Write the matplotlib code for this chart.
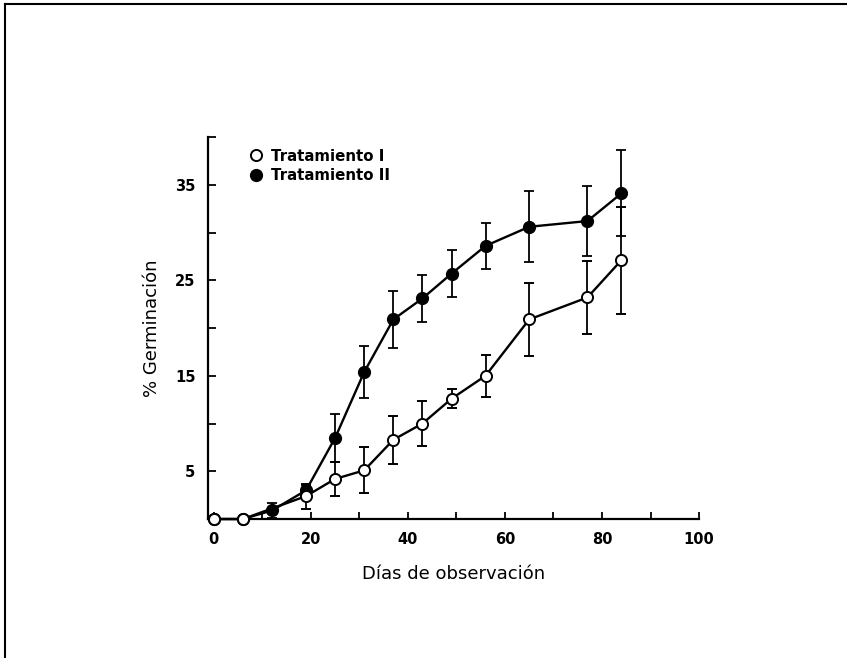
"""
Germinación acumulada (%) frente a días de observación para dos tratamientos,
con barras de error.
"""

import matplotlib
matplotlib.use("Agg")
import matplotlib.pyplot as plt
from matplotlib.lines import Line2D

# ============================== datos ========================================

dias_t1 = [0, 6, 19, 25, 31, 37, 43, 49, 56, 65, 77, 84]
germ_t1 = [0, 0, 2.4, 4.2, 5.1, 8.3, 10.0, 12.6, 15.0, 20.9, 23.2, 27.1]
err_t1 = [0, 0, 1.3, 1.8, 2.4, 2.5, 2.4, 1.0, 2.2, 3.8, 3.8, 5.6]

dias_t2 = [0, 6, 12, 19, 25, 31, 37, 43, 49, 56, 65, 77, 84]
germ_t2 = [0, 0, 0.9, 3.0, 8.5, 15.4, 20.9, 23.1, 25.7, 28.6, 30.6, 31.2, 34.1]
err_t2 = [0, 0, 0.8, 0.6, 2.5, 2.7, 3.0, 2.5, 2.5, 2.4, 3.7, 3.7, 4.5]

xticks_lab = [0, 20, 40, 60, 80, 100]
yticks_lab = [5, 15, 25, 35]

# ============================== main =========================================


def main():
    fig = plt.figure(figsize=(8.47, 6.58), dpi=100)
    ax = fig.add_axes([0.2456, 0.2112, 0.5797, 0.5806])

    # marco de la hoja escaneada
    fig.add_artist(Line2D([0.006, 1.0], [0.9935, 0.9935], color="black", lw=1.5))
    fig.add_artist(Line2D([0.006, 0.006], [0.0, 0.9935], color="black", lw=1.5))

    ax.errorbar(dias_t2, germ_t2, yerr=err_t2, fmt="o-", color="black",
                mfc="black", mec="black", ms=8.5, lw=1.7, elinewidth=1.3,
                capsize=3.8, capthick=1.3, zorder=2, clip_on=False)
    ax.errorbar(dias_t1, germ_t1, yerr=err_t1, fmt="o-", color="black",
                mfc="white", mec="black", mew=1.4, ms=8, lw=1.7,
                elinewidth=1.3, capsize=3.8, capthick=1.3, zorder=3,
                clip_on=False)

    ax.set_xlim(-1.2, 100)
    ax.set_ylim(0, 40)

    ax.spines["top"].set_visible(False)
    ax.spines["right"].set_visible(False)
    for s in ("left", "bottom"):
        ax.spines[s].set_linewidth(1.6)

    ax.set_xticks(range(0, 101, 10))
    ax.set_xticklabels([str(v) if v in xticks_lab else "" for v in range(0, 101, 10)])
    ax.set_yticks(range(5, 41, 5))
    ax.set_yticklabels([str(v) if v in yticks_lab else "" for v in range(5, 41, 5)])
    ax.tick_params(axis="x", direction="in", length=5, width=1.3, pad=9,
                   labelsize=10.5)
    ax.tick_params(axis="y", direction="in", length=6, width=1.3, pad=9,
                   labelsize=10.5)
    for lab in ax.get_xticklabels() + ax.get_yticklabels():
        lab.set_fontweight("bold")

    ax.set_xlabel("Días de observación", fontsize=13, labelpad=13)
    ax.set_ylabel("% Germinación", fontsize=13, labelpad=10)

    handles = [
        Line2D([], [], ls="none", marker="o", mfc="white", mec="black",
               mew=1.4, ms=8),
        Line2D([], [], ls="none", marker="o", mfc="black", mec="black", ms=8.5),
    ]
    ax.legend(handles, ["Tratamiento I", "Tratamiento II"], loc="upper left",
              bbox_to_anchor=(0.055, 1.005), frameon=False, handlelength=1.0,
              handletextpad=0.5, labelspacing=0.3,
              prop={"weight": "bold", "size": 10.8})

    fig.savefig("out.png", dpi=100)


if __name__ == '__main__':
    main()
